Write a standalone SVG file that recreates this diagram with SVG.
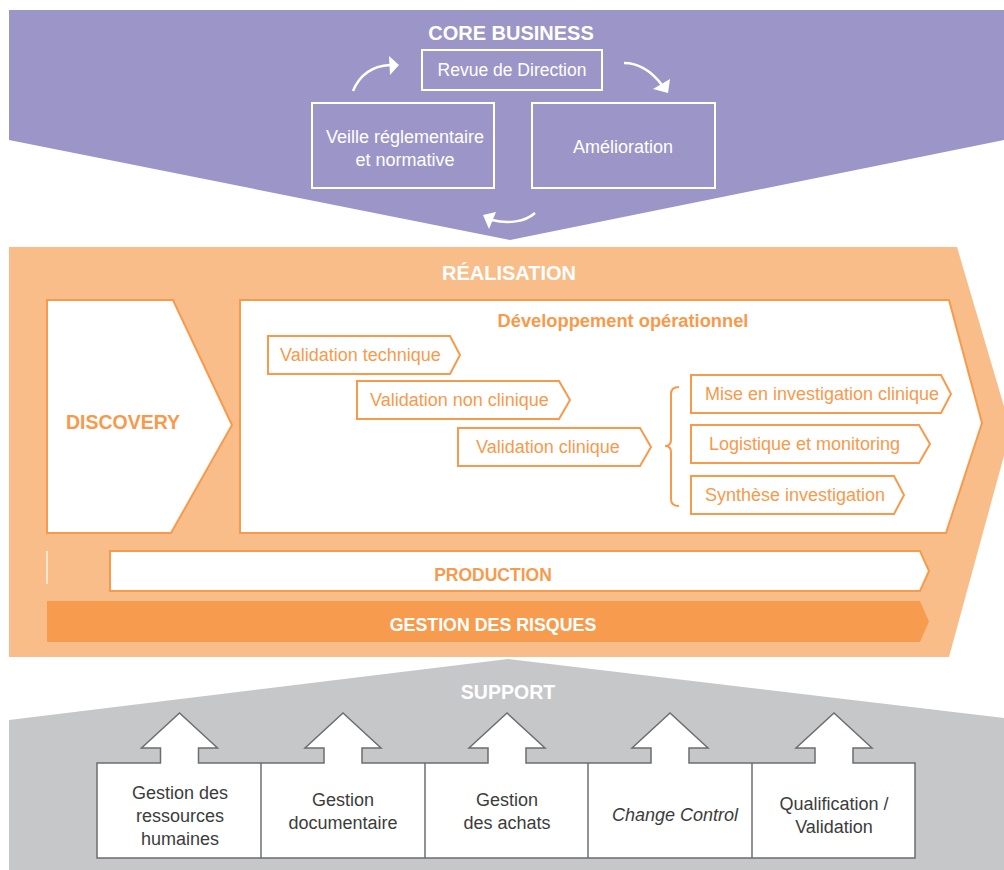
<svg xmlns="http://www.w3.org/2000/svg" width="1004" height="870" viewBox="0 0 1004 870">
<defs>
<style>
.t{font-family:"Liberation Sans",Arial,sans-serif;text-anchor:middle}
.wb{fill:#fff;font-weight:bold}
.wbox{fill:none;stroke:#fff;stroke-width:2}
.wt{fill:#fff}
.ob{fill:#f79a4c;font-weight:bold}
.chev{fill:#fff;stroke:#f79a4c;stroke-width:2}
.ot{fill:#f79a4c;font-size:18px;text-anchor:start}
.gt{fill:#3c3c3c;font-size:18px}
.arr{fill:none;stroke:#fff;stroke-width:2.5}
</style>
</defs>
<g id="core-business">
<polygon points="9,10 1004,10 1004,140 510,240 9,140" fill="#9c96c8"/>
<text class="t wb" x="511" y="40" font-size="20">CORE BUSINESS</text>
</g>
<g id="revue">
<rect class="wbox" x="422" y="50" width="180" height="40"/>
<text class="t wt" x="512" y="76" font-size="17.5">Revue de Direction</text>
</g>
<g id="veille">
<rect class="wbox" x="312" y="103" width="182" height="85"/>
<text class="t wt" x="405" y="143" font-size="18">Veille réglementaire</text>
<text class="t wt" x="405" y="166" font-size="18">et normative</text>
</g>
<g id="amelioration">
<rect class="wbox" x="532" y="103" width="183" height="85"/>
<text class="t wt" x="623" y="153" font-size="18">Amélioration</text>
</g>
<g id="connectors">
<path class="arr" d="M353,91 C360,74 372,66 390,65"/>
<polygon points="389,56 399,65 390,75" fill="#fff"/>
<path class="arr" d="M624,63 C640,63 652,72 662,85"/>
<polygon points="653,89 668,93 670,79" fill="#fff"/>
<path class="arr" d="M535,213 C525,222 508,224 492,220"/>
<polygon points="483,215 489,229 496,212" fill="#fff"/>
</g>
<g id="realisation">
<polygon points="9,247 957,247 1011,430 949,657 9,657" fill="#f9bd89"/>
<text class="t wb" x="509" y="280" font-size="20">RÉALISATION</text>
<line x1="47" y1="551" x2="47" y2="584" stroke="#fff" stroke-opacity="0.8" stroke-width="1.5"/>
</g>
<g id="discovery">
<polygon class="chev" points="47,300 173,300 232,425 171,533 47,533"/>
<text class="t ob" x="123" y="429" font-size="19.5">DISCOVERY</text>
</g>
<g id="developpement">
<polygon class="chev" points="240,300 949,300 982,423 946,533 240,533"/>
<text class="t ob" x="623" y="327" font-size="18.3">Développement opérationnel</text>
</g>
<g id="validation-technique">
<polygon class="chev" points="268,336 450,336 460,355 450,374 268,374"/>
<text class="t ot" x="280" y="361">Validation technique</text>
</g>
<g id="validation-non-clinique">
<polygon class="chev" points="357,381 559,381 570,400 559,419 357,419"/>
<text class="t ot" x="370" y="406">Validation non clinique</text>
</g>
<g id="validation-clinique">
<polygon class="chev" points="458,428 640,428 651,447 640,466 458,466"/>
<text class="t ot" x="476" y="453">Validation clinique</text>
</g>
<g id="brace">
<path d="M679,387 Q671,387 671,394 L671,440 Q671,446 665,446 Q671,446 671,452 L671,499 Q671,506 679,506" fill="none" stroke="#f79a4c" stroke-width="2"/>
</g>
<g id="mise-en-investigation">
<polygon class="chev" points="691,375 941,375 951,394 941,413 691,413"/>
<text class="t ot" x="705" y="400">Mise en investigation clinique</text>
</g>
<g id="logistique">
<polygon class="chev" points="691,425 919,425 930,444 919,463 691,463"/>
<text class="t ot" x="709" y="450">Logistique et monitoring</text>
</g>
<g id="synthese">
<polygon class="chev" points="691,476 894,476 904,495 894,514 691,514"/>
<text class="t ot" x="705" y="501">Synthèse investigation</text>
</g>
<g id="production">
<polygon class="chev" points="110,551 920,551 929,571 920,591 110,591"/>
<text class="t ob" x="493" y="581" font-size="17.5">PRODUCTION</text>
</g>
<g id="gestion-risques">
<polygon points="47,601 920,601 929,621.5 920,642 47,642" fill="#f79c4f"/>
<text class="t wb" x="493" y="631" font-size="17.8">GESTION DES RISQUES</text>
</g>
<g id="support">
<polygon points="9,720 508,659 1004,718 1004,870 9,870" fill="#c6c7c9"/>
<text class="t wb" x="508" y="699" font-size="19.5">SUPPORT</text>
</g>
<g id="support-boxes">
<path d="M97,763 L160.5,763 L160.5,748 L141.5,748 L179.5,713 L217.5,748 L198.5,748 L198.5,763 L324,763 L324,748 L305,748 L343,713 L381,748 L362,748 L362,763 L488,763 L488,748 L469,748 L507,713 L545,748 L526,748 L526,763 L651,763 L651,748 L632,748 L670,713 L708,748 L689,748 L689,763 L815,763 L815,748 L796,748 L834,713 L872,748 L853,748 L853,763 L915,763 L915,858 L97,858 Z" fill="#fff" stroke="#6d6e70" stroke-width="1.5" stroke-linejoin="miter"/>
<line x1="261" y1="763" x2="261" y2="858" stroke="#6d6e70" stroke-width="1.5"/>
<line x1="425" y1="763" x2="425" y2="858" stroke="#6d6e70" stroke-width="1.5"/>
<line x1="588" y1="763" x2="588" y2="858" stroke="#6d6e70" stroke-width="1.5"/>
<line x1="752" y1="763" x2="752" y2="858" stroke="#6d6e70" stroke-width="1.5"/>
</g>
<g id="rh">
<text class="t gt" x="180" y="799">Gestion des</text>
<text class="t gt" x="180" y="822">ressources</text>
<text class="t gt" x="180" y="845">humaines</text>
</g>
<g id="documentaire">
<text class="t gt" x="343" y="806">Gestion</text>
<text class="t gt" x="343" y="829">documentaire</text>
</g>
<g id="achats">
<text class="t gt" x="507" y="806">Gestion</text>
<text class="t gt" x="507" y="829">des achats</text>
</g>
<g id="change-control">
<text class="t gt" x="675" y="821" font-style="italic">Change Control</text>
</g>
<g id="qualification">
<text class="t gt" x="834" y="810">Qualification /</text>
<text class="t gt" x="834" y="833">Validation</text>
</g>
</svg>
